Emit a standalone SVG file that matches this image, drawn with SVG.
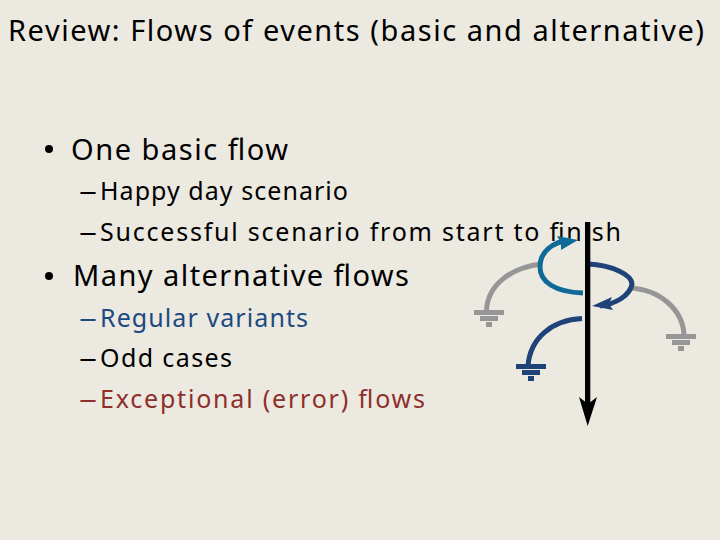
<svg xmlns="http://www.w3.org/2000/svg" width="720" height="540" viewBox="0 0 720 540">
<style>
text{font-family:"Noto Sans","DejaVu Sans",sans-serif;fill:#000}
.t{font-size:29px}.l1{font-size:29px}.l2{font-size:25px}
.c{fill:none;stroke-width:5}
.gray{stroke:#969696}.navy{stroke:#1f4279}.teal{stroke:#0f6a97}
.gg{fill:#969696}.gn{fill:#1f4279}
.blue{fill:#1c4a80}.red{fill:#8e2f2b}
</style>
<rect width="720" height="540" fill="#ece9e0"/>
<g id="text">
<text class="t" x="8" y="41" textLength="696" lengthAdjust="spacing">Review: Flows of events (basic and alternative)</text>
<circle cx="49" cy="149" r="4" fill="#000"/>
<text class="l1" x="71" y="160" textLength="217" lengthAdjust="spacing">One basic flow</text>
<text class="l2" x="79" y="200" textLength="18" lengthAdjust="spacingAndGlyphs">–</text>
<text class="l2" x="100" y="200" textLength="248" lengthAdjust="spacing">Happy day scenario</text>
<text class="l2" x="79" y="241" textLength="18" lengthAdjust="spacingAndGlyphs">–</text>
<text class="l2" x="100" y="241" textLength="521" lengthAdjust="spacing">Successful scenario from start to finish</text>
<circle cx="49" cy="276" r="4" fill="#000"/>
<text class="l1" x="73" y="286" textLength="336" lengthAdjust="spacing">Many alternative flows</text>
<text class="l2 blue" x="79" y="327" textLength="18" lengthAdjust="spacingAndGlyphs">–</text>
<text class="l2 blue" x="100" y="327" textLength="208" lengthAdjust="spacing">Regular variants</text>
<text class="l2" x="79" y="367" textLength="18" lengthAdjust="spacingAndGlyphs">–</text>
<text class="l2" x="100" y="367" textLength="132" lengthAdjust="spacing">Odd cases</text>
<text class="l2 red" x="79" y="408" textLength="18" lengthAdjust="spacingAndGlyphs">–</text>
<text class="l2 red" x="100" y="408" textLength="325" lengthAdjust="spacing">Exceptional (error) flows</text>
</g>
<g id="connectors">
<path class="c gray" d="M541 264C510 268 488 285 486.500 310"/>
<path class="c gray" d="M629 288C660 289 683 310 684 335"/>
<path class="c navy" d="M582 318.500C552 320 530 338 528 366"/>
<path class="c teal" d="M583 293C555 292 540 282 540 267C540 252 552 242 570 240"/>
<path d="M578 240L557 236L561 243L561 250Z" fill="#0f6a97"/>
<path class="c navy" d="M588 264C612 265 632 275 632 284C630 296 615 304 600 306"/>
<path d="M592 306L612 297L609 304L613 310Z" fill="#1f4279"/>
<rect x="585" y="222" width="5.300" height="186" fill="#000"/>
<path d="M579 397L587.700 426L597 397L588 404Z" fill="#000"/>
</g>
<g id="ground-left" class="gg">
<rect x="474" y="310" width="30" height="5"/><rect x="480" y="316" width="18" height="5"/><rect x="486" y="322" width="6" height="5"/>
</g>
<g id="ground-right" class="gg">
<rect x="666" y="334" width="30" height="5"/><rect x="672" y="340" width="18" height="5"/><rect x="678" y="346" width="6" height="5"/>
</g>
<g id="ground-mid" class="gn">
<rect x="516" y="364" width="30" height="5"/><rect x="522" y="370" width="18" height="5"/><rect x="528" y="376" width="6" height="5"/>
</g>
</svg>
